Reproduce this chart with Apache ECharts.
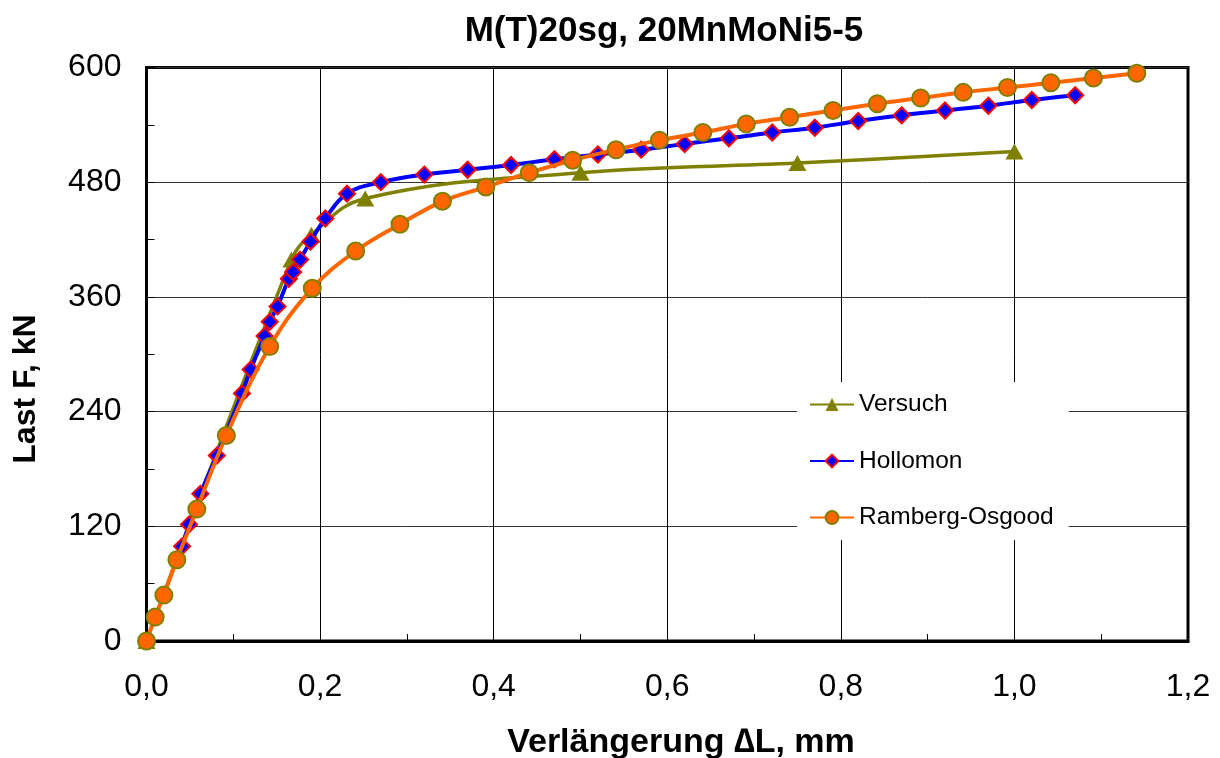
<!DOCTYPE html>
<html>
<head>
<meta charset="utf-8">
<script src="https://cdn.jsdelivr.net/npm/echarts@6/dist/echarts.min.js"></script>
<style>html,body{margin:0;padding:0;background:#fff}#c{width:1220px;height:758px}</style>
</head>
<body>
<div id="c"></div>
<script>
const titleText = 'M(T)20sg, 20MnMoNi5-5';
const xName = 'Verlängerung ∆L, mm';
const yName = 'Last F, kN';
const seriesNames = ['Versuch', 'Hollomon', 'Ramberg-Osgood'];

const versuchX = [0, 0.167, 0.190, 0.252, 0.500, 0.750, 1.000];
const versuchY = [0, 399, 425, 463, 490, 500, 512];

const hollomonX = [0.041, 0.049, 0.062, 0.081, 0.110, 0.120, 0.136, 0.142, 0.151, 0.164, 0.169, 0.177, 0.189, 0.206, 0.231, 0.270, 0.320, 0.370, 0.420, 0.470, 0.520, 0.570, 0.620, 0.671, 0.721, 0.770, 0.820, 0.870, 0.920, 0.970, 1.020, 1.070];
const hollomonY = [99, 122, 154, 194, 259, 284, 319, 334, 350, 379, 386, 399, 418, 442, 468, 480, 488, 493, 498, 504, 509, 514, 520, 526, 532, 537, 544, 550, 555, 560, 566, 571];

const rambergX = [0, 0.010, 0.020, 0.035, 0.058, 0.092, 0.142, 0.191, 0.241, 0.292, 0.341, 0.391, 0.441, 0.491, 0.541, 0.591, 0.641, 0.691, 0.741, 0.791, 0.842, 0.892, 0.941, 0.992, 1.042, 1.091, 1.141];
const rambergY = [0, 25, 48, 85, 138, 215, 308, 369, 408, 436, 460, 475, 490, 503, 514, 524, 532, 541, 548, 555, 562, 568, 574, 579, 584, 589, 594];

const xTicks = [0, 0.2, 0.4, 0.6, 0.8, 1.0, 1.2];
const yTicks = [0, 120, 240, 360, 480, 600];

const pairs = (xs, ys) => xs.map((x, i) => [x, ys[i]]);
const FONT = '"Liberation Sans", Arial, sans-serif';

const chart = echarts.init(document.getElementById('c'), null, {renderer: 'canvas'});
chart.setOption({
  animation: false,
  backgroundColor: '#fff',
  grid: {left: 146.5, right: 32, top: 67.5, bottom: 117, show: true, borderColor: '#000', borderWidth: 3, backgroundColor: 'transparent'},
  graphic: [
    {type: 'text', x: 664, y: 31, style: {text: titleText, font: 'bold 35px ' + FONT, fill: '#000', textAlign: 'center', textVerticalAlign: 'middle'}},
    {type: 'text', x: 681, y: 743, style: {text: xName, font: 'bold 34px ' + FONT, fill: '#000', textAlign: 'center', textVerticalAlign: 'middle'}},
    {type: 'text', x: 26, y: 389, rotation: Math.PI / 2, style: {text: yName, font: 'bold 32px ' + FONT, fill: '#000', textAlign: 'center', textVerticalAlign: 'middle'}}
  ],
  legend: {
    orient: 'vertical', left: 797, top: 382,
    backgroundColor: '#fff', padding: [10, 15, 10, 12],
    itemWidth: 44, itemHeight: 16, itemGap: 31.5,
    textStyle: {fontFamily: FONT, fontSize: 24.5, color: '#000'},
    data: seriesNames
  },
  xAxis: {
    type: 'value', min: xTicks[0], max: xTicks[xTicks.length - 1], interval: 0.2,
    axisLine: {show: true, onZero: false, lineStyle: {color: '#000', width: 3}},
    axisTick: {show: true, inside: true, length: 7, lineStyle: {color: '#000'}},
    minorTick: {show: true, splitNumber: 2, length: 7, lineStyle: {color: '#000', width: 1}},
    splitLine: {show: true, lineStyle: {color: '#000', width: 1}},
    axisLabel: {fontFamily: FONT, fontSize: 32, color: '#000', margin: 30, formatter: v => v.toFixed(1).replace('.', ',')}
  },
  yAxis: {
    type: 'value', min: yTicks[0], max: yTicks[yTicks.length - 1], interval: 120,
    axisLine: {show: true, onZero: false, lineStyle: {color: '#000', width: 3}},
    axisTick: {show: true, inside: true, length: 8, lineStyle: {color: '#000'}},
    minorTick: {show: true, splitNumber: 2, length: 8, lineStyle: {color: '#000', width: 1}},
    splitLine: {show: true, lineStyle: {color: '#333', width: 1}},
    axisLabel: {fontFamily: FONT, fontSize: 32, color: '#000', margin: 25}
  },
  series: [
    {
      name: seriesNames[0], type: 'line', data: pairs(versuchX, versuchY), z: 2,
      smooth: 0.4, symbol: 'triangle', symbolSize: [18, 16], showAllSymbol: true,
      lineStyle: {color: '#808000', width: 3.5},
      itemStyle: {color: '#808000', borderColor: '#808000', borderWidth: 0}
    },
    {
      name: seriesNames[1], type: 'line', data: pairs(hollomonX, hollomonY), z: 3,
      smooth: 0.4, symbol: 'diamond', symbolSize: 16, showAllSymbol: true,
      lineStyle: {color: '#0000ff', width: 4},
      itemStyle: {color: '#0000ff', borderColor: '#ff0000', borderWidth: 2}
    },
    {
      name: seriesNames[2], type: 'line', data: pairs(rambergX, rambergY), z: 4,
      smooth: 0.4, symbol: 'circle', symbolSize: 17, showAllSymbol: true,
      lineStyle: {color: '#ff6600', width: 4},
      itemStyle: {color: '#ff6600', borderColor: '#808000', borderWidth: 2}
    }
  ]
});
</script>
</body>
</html>
